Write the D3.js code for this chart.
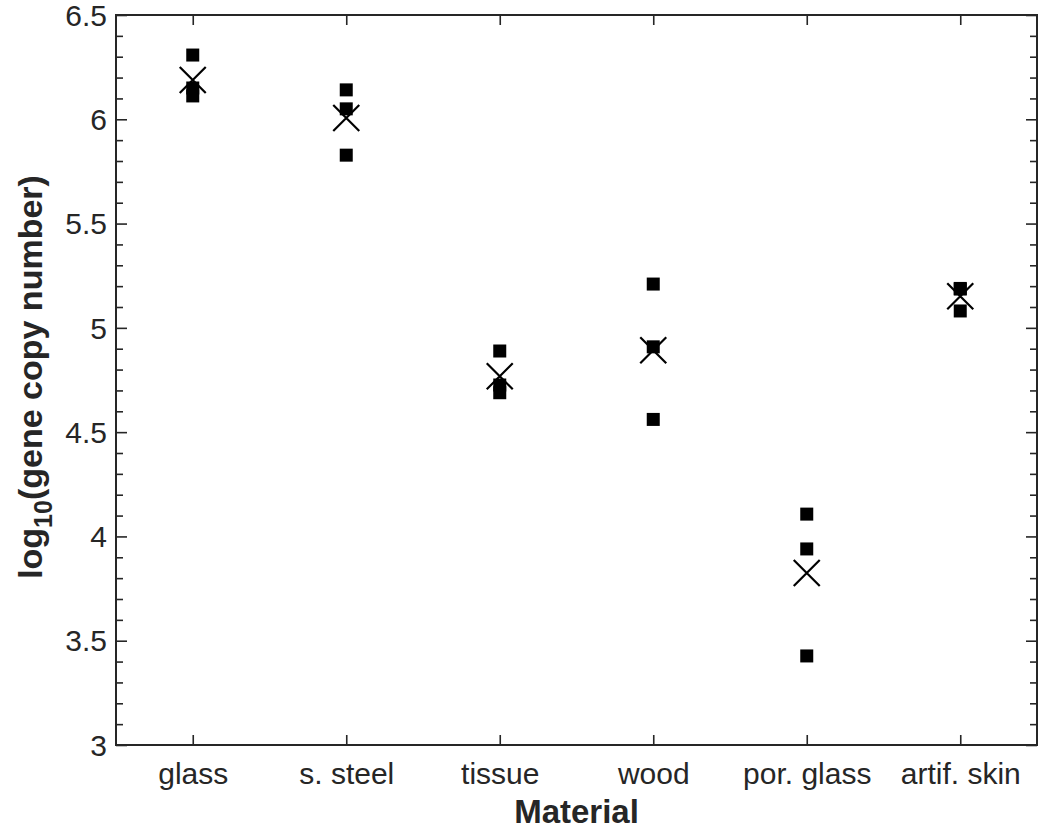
<!DOCTYPE html>
<html>
<head>
<meta charset="utf-8">
<script src="https://cdn.jsdelivr.net/npm/d3@7"></script>
<style>
  html, body { margin: 0; padding: 0; background: #fff; }
  svg { display: block; font-family: "Liberation Sans", Arial, Helvetica, sans-serif; }
</style>
</head>
<body>
<svg id="chart" width="1039" height="830"></svg>
<script>
// ---- data ----
const categories = ["glass", "s. steel", "tissue", "wood", "por. glass", "artif. skin"];
const replicate1 = [6.308, 6.141, 4.889, 5.210, 4.107, 5.189];
const replicate2 = [6.150, 6.050, 4.726, 4.909, 3.940, 5.186];
const replicate3 = [6.112, 5.828, 4.689, 4.561, 3.427, 5.081];
const meanValues = [6.188, 6.006, 4.768, 4.893, 3.825, 5.152];
const yMajorTicks = [3, 3.5, 4, 4.5, 5, 5.5, 6, 6.5];
const yTickLabels = ["3", "3.5", "4", "4.5", "5", "5.5", "6", "6.5"];
const yMinorTicks = d3.range(30, 66).map(d => d / 10).filter(v => Math.abs(v * 2 - Math.round(v * 2)) > 1e-6);

// ---- layout ----
const svg = d3.select("#chart");
const mLeft = 116, mRight = 1037, mTop = 15, mBottom = 745;
const axisColor = "#262626";

const x = d3.scaleLinear().domain([0.5, categories.length + 0.5]).range([mLeft, mRight]);
const y = d3.scaleLinear().domain([3, 6.5]).range([mBottom, mTop]);

const points = [];
categories.forEach((c, i) => {
  [replicate1, replicate2, replicate3].forEach(arr => points.push({ i: i + 1, v: arr[i] }));
});

// ---- axes ----
const fontTick = 30;

const gB = svg.append("g").attr("transform", `translate(0,${mBottom})`)
  .call(d3.axisBottom(x).tickValues(d3.range(1, categories.length + 1))
    .tickFormat((d) => categories[d - 1]).tickSizeInner(-10).tickSizeOuter(0));
gB.selectAll("text").attr("y", 39).attr("dy", 0).attr("font-size", fontTick).attr("font-family", "Liberation Sans, Arial, sans-serif").attr("fill", axisColor);

svg.append("g").attr("transform", `translate(0,${mTop})`)
  .call(d3.axisTop(x).tickValues(d3.range(1, categories.length + 1))
    .tickFormat("").tickSizeInner(-10).tickSizeOuter(0));

const gL = svg.append("g").attr("transform", `translate(${mLeft},0)`)
  .call(d3.axisLeft(y).tickValues(yMajorTicks)
    .tickFormat((d, k) => yTickLabels[k]).tickSizeInner(-11).tickSizeOuter(0));
gL.selectAll("text").attr("x", -9).attr("dy", "0.34em").attr("font-size", fontTick).attr("font-family", "Liberation Sans, Arial, sans-serif").attr("fill", axisColor);
svg.append("g").attr("transform", `translate(${mLeft},0)`)
  .call(d3.axisLeft(y).tickValues(yMinorTicks).tickFormat("").tickSizeInner(-7).tickSizeOuter(0));

svg.append("g").attr("transform", `translate(${mRight},0)`)
  .call(d3.axisRight(y).tickValues(yMajorTicks).tickFormat("").tickSizeInner(-11).tickSizeOuter(0));
svg.append("g").attr("transform", `translate(${mRight},0)`)
  .call(d3.axisRight(y).tickValues(yMinorTicks).tickFormat("").tickSizeInner(-7).tickSizeOuter(0));

svg.selectAll(".domain").remove();
svg.selectAll(".tick line").attr("stroke", axisColor).attr("stroke-width", 1.6);

svg.append("rect")
  .attr("x", mLeft).attr("y", mTop)
  .attr("width", mRight - mLeft).attr("height", mBottom - mTop)
  .attr("fill", "none").attr("stroke", axisColor).attr("stroke-width", 2);

// ---- marks ----
const sq = 13;
svg.append("g").selectAll("rect").data(points).join("rect")
  .attr("x", d => x(d.i) - sq / 2)
  .attr("y", d => y(d.v) - sq / 2)
  .attr("width", sq).attr("height", sq)
  .attr("fill", "#000");

const cr = 13;
const crossG = svg.append("g").attr("stroke", "#000").attr("stroke-width", 2.2).attr("fill", "none");
crossG.selectAll("path").data(meanValues).join("path")
  .attr("d", (v, k) => {
    const cx = x(k + 1), cy = y(v);
    return `M${cx - cr},${cy - cr}L${cx + cr},${cy + cr}M${cx - cr},${cy + cr}L${cx + cr},${cy - cr}`;
  });

// ---- labels ----
svg.append("text")
  .attr("x", (mLeft + mRight) / 2).attr("y", 823)
  .attr("text-anchor", "middle")
  .attr("font-size", 33).attr("font-weight", "bold").attr("fill", axisColor)
  .text("Material");

const yl = svg.append("text")
  .attr("transform", `translate(42,377) rotate(-90)`)
  .attr("text-anchor", "middle")
  .attr("font-size", 34).attr("font-weight", "bold").attr("fill", axisColor);
yl.append("tspan").text("log");
yl.append("tspan").attr("font-size", 25).attr("dy", 10).text("10");
yl.append("tspan").attr("dy", -10).text("(gene copy number)");
</script>
</body>
</html>
